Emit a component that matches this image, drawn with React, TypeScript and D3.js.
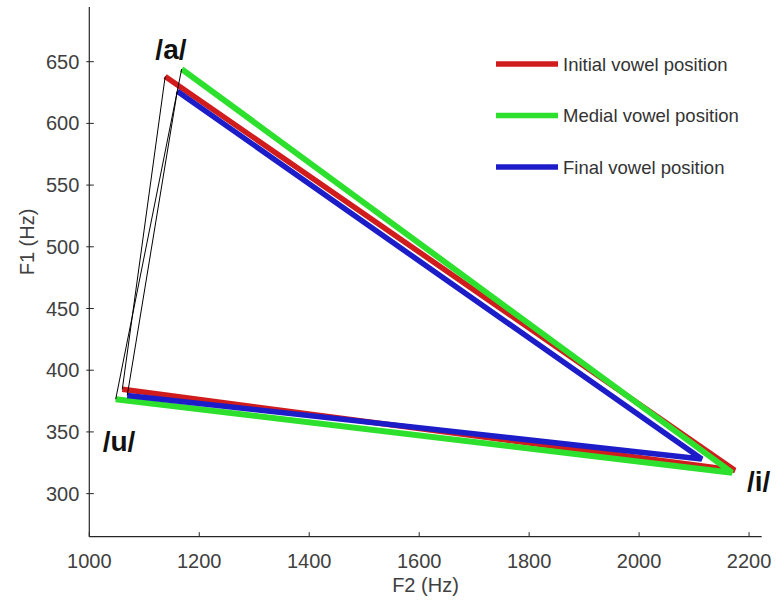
import React from "react";
import * as d3 from "d3";

// Vowel space: F2 (x) vs F1 (y), three word positions
const vowels = ["/a/", "/i/", "/u/"];
const seriesNames = ["Initial vowel position", "Medial vowel position", "Final vowel position"];
const seriesColors = ["#d01c1c", "#2ee02e", "#1c1cc8"];
// F2 values (Hz) per series, order /a/, /i/, /u/
const f2Initial = [1138, 2174, 1060];
const f2Medial = [1168, 2169, 1048];
const f2Final = [1160, 2114, 1069];
// F1 values (Hz) per series, order /a/, /i/, /u/
const f1Initial = [638, 319, 384.5];
const f1Medial = [644, 317, 376.5];
const f1Final = [626, 328, 379.5];

const xTicks = [1000, 1200, 1400, 1600, 1800, 2000, 2200];
const yTicks = [300, 350, 400, 450, 500, 550, 600, 650];

// Vowel label anchors in data space (F2, F1)
const labelF2 = [1148.5, 2217.5, 1054];
const labelF1 = [652, 302, 334.5];

const W = 781;
const H = 607;
const FONT = "'Liberation Sans', Arial, Helvetica, sans-serif";

export default function App() {
  const x = d3.scaleLinear().domain([1000, 2223]).range([89.3, 761.7]);
  const y = d3.scaleLinear().domain([265.1, 694.3]).range([536.7, 7]);

  const f2 = [f2Initial, f2Medial, f2Final];
  const f1 = [f1Initial, f1Medial, f1Final];
  const series = seriesNames.map((name, s) => ({
    name,
    color: seriesColors[s],
    pts: vowels.map((v, i) => ({ v, f2: f2[s][i], f1: f1[s][i] })),
  }));

  const line = d3
    .line<{ f2: number; f1: number }>()
    .x((d) => x(d.f2))
    .y((d) => y(d.f1));

  const x0 = x.range()[0];
  const y0 = y.range()[0];

  return (
    <svg
      width={W}
      height={H}
      style={{ position: "absolute", left: 0, top: 0, background: "#fff" }}
      fontFamily={FONT}
    >
      <rect width={W} height={H} fill="#fff" />

      {/* thick edges /a/ -> /i/ -> /u/ */}
      {series.map((s, k) => (
        <path
          key={"thick" + k}
          d={line(s.pts) || ""}
          fill="none"
          stroke={s.color}
          strokeWidth={k === 1 ? 6 : 5.5}
          strokeLinejoin="miter"
          strokeMiterlimit={3}
        />
      ))}
      {/* thin closing edges /u/ -> /a/ */}
      {series.map((s, k) => (
        <path
          key={"thin" + k}
          d={line([s.pts[2], s.pts[0]]) || ""}
          fill="none"
          stroke="#000"
          strokeWidth={1}
        />
      ))}

      {/* axes */}
      <line x1={x0} x2={x.range()[1]} y1={y0} y2={y0} stroke="#262626" strokeWidth={1.2} />
      <line x1={x0} x2={x0} y1={y0} y2={y.range()[1]} stroke="#262626" strokeWidth={1.2} />
      {xTicks.map((t) => (
        <g key={"xt" + t}>
          <line x1={x(t)} x2={x(t)} y1={y0} y2={y0 - 4.5} stroke="#262626" strokeWidth={1} />
          <text x={x(t)} y={y0 + 31} textAnchor="middle" fontSize={20} fill="#404040">
            {t}
          </text>
        </g>
      ))}
      {yTicks.map((t) => (
        <g key={"yt" + t}>
          <line x1={x0 - 3} x2={x0 + 4.5} y1={y(t)} y2={y(t)} stroke="#262626" strokeWidth={1} />
          <text x={x0 - 10} y={y(t) + 7} textAnchor="end" fontSize={20} fill="#404040">
            {t}
          </text>
        </g>
      ))}
      <text x={(x0 + x.range()[1]) / 2} y={592} textAnchor="middle" fontSize={20} fill="#404040">
        F2 (Hz)
      </text>
      <text
        transform="translate(34, 242) rotate(-90)"
        textAnchor="middle"
        fontSize={20}
        fill="#404040"
      >
        F1 (Hz)
      </text>

      {/* vowel labels */}
      {vowels.map((v, i) => (
        <text
          key={"lab" + v}
          x={x(labelF2[i])}
          y={y(labelF1[i])}
          textAnchor="middle"
          fontSize={28}
          fontWeight="bold"
          fill="#111"
        >
          {v}
        </text>
      ))}

      {/* legend */}
      {series.map((s, k) => (
        <g key={"lg" + k} transform={`translate(496, ${64 + k * 51.5})`}>
          <line x1={0} x2={62} y1={0} y2={0} stroke={s.color} strokeWidth={5.5} />
          <text x={67} y={6.5} fontSize={18.5} fill="#333">
            {s.name}
          </text>
        </g>
      ))}
    </svg>
  );
}
